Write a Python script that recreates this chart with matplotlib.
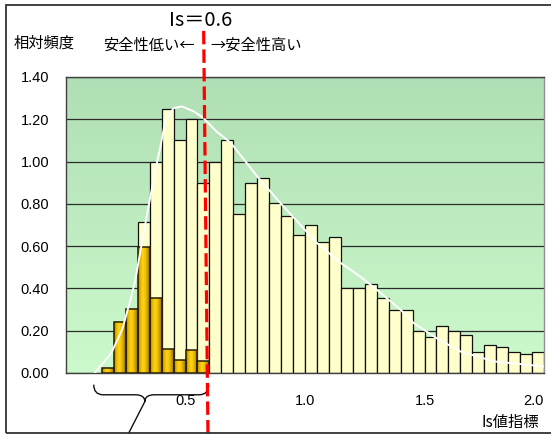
import numpy as np
import matplotlib
matplotlib.use("Agg")
import matplotlib.pyplot as plt
from matplotlib.patches import Rectangle, PathPatch
from matplotlib.path import Path
from matplotlib.colors import LinearSegmentedColormap

plt.rcParams['font.family'] = ['Liberation Sans', 'Noto Sans CJK JP', 'DejaVu Sans']
JP = ['Noto Sans CJK JP', 'DejaVu Sans']

# 頻度分布 (階級幅 0.05, 0.15〜2.00)
bin_width = 0.05
bin_left = np.round(np.arange(0.15, 2.0, bin_width), 2)
freq_all = [0.024, 0.241, 0.303, 0.712, 1.00, 1.251, 1.10, 1.202, 0.901,
            1.00, 1.10, 0.752, 0.901, 0.92, 0.804, 0.744, 0.652, 0.701,
            0.619, 0.643, 0.402, 0.402, 0.422, 0.353, 0.299, 0.299, 0.201,
            0.170, 0.220, 0.201, 0.181, 0.099, 0.131, 0.121, 0.099, 0.090,
            0.099]
# Is < 0.6 の部分
freq_low = [0.024, 0.241, 0.303, 0.596, 0.354, 0.113, 0.060, 0.107, 0.055]

# 近似曲線
curve_x = [0.12, 0.19, 0.235, 0.27, 0.29, 0.31, 0.34, 0.38, 0.395, 0.415,
           0.45, 0.485, 0.535, 0.575, 0.63, 0.69, 0.80, 0.90, 1.05, 1.15,
           1.23, 1.30, 1.40, 1.455, 1.55, 1.65, 1.79, 2.0]
curve_y = [0.0, 0.095, 0.205, 0.347, 0.44, 0.567, 0.757, 0.993, 1.07, 1.19,
           1.253, 1.261, 1.237, 1.206, 1.142, 1.088, 0.93, 0.80, 0.615, 0.52,
           0.457, 0.394, 0.299, 0.236, 0.165, 0.102, 0.055, 0.031]

is_threshold = 0.6
y_ticks = [0.0, 0.2, 0.4, 0.6, 0.8, 1.0, 1.2, 1.4]
x_ticks = [0.5, 1.0, 1.5, 2.0]

W, H = 551, 434
fig = plt.figure(figsize=(W / 100, H / 100), dpi=100)
ax = fig.add_axes([66 / W, (H - 373) / H, (544 - 66) / W, (373 - 77) / H])
ax.set_xlim(0, 2.0)
ax.set_ylim(0, 1.4)

# 背景のグラデーション
bg = LinearSegmentedColormap.from_list("bg", ["#ccfacc", "#b1dfb5"])
ax.imshow(np.linspace(0, 1, 256).reshape(-1, 1), cmap=bg, origin="lower",
          extent=[0, 2.0, 0, 1.4], aspect="auto", zorder=0)

ax.set_axisbelow(True)
ax.yaxis.grid(True, color="#2b2b2b", linewidth=0.9)

# 全体の分布
ax.bar(bin_left, freq_all, width=bin_width, align="edge", color="#ffffcc",
       edgecolor="#111111", linewidth=0.9, zorder=2)

# Is < 0.6 の棒 (金色の円柱風)
gold = LinearSegmentedColormap.from_list(
    "gold", ["#a87f00", "#e6b800", "#ffd21a", "#f5c800", "#c99c00", "#8a6a00"])
for x0, h in zip(bin_left, freq_low):
    rect = Rectangle((x0, 0), bin_width, h, facecolor="none",
                     edgecolor="#2a1f00", linewidth=1.1, zorder=4)
    ax.add_patch(rect)
    im = ax.imshow(np.linspace(0, 1, 64).reshape(1, -1), cmap=gold,
                   extent=[x0, x0 + bin_width, 0, h], aspect="auto", zorder=3)
    im.set_clip_path(rect)

ax.plot(curve_x, curve_y, color="white", linewidth=1.4, zorder=5)

ax.set_xlim(0, 2.0)
ax.set_ylim(0, 1.4)

ax.set_yticks(y_ticks)
ax.set_yticklabels([f"{v:.2f}" for v in y_ticks])
ax.set_xticks(x_ticks)
ax.set_xticklabels([f"{v:.1f}" for v in x_ticks])
ax.get_xticklabels()[-1].set_horizontalalignment("right")
ax.tick_params(axis="y", length=0, pad=12, labelsize=10.5)
ax.tick_params(axis="x", length=0, pad=15, labelsize=10.5)
for side in ["left", "top", "bottom"]:
    ax.spines[side].set_color("#404040")
ax.spines["right"].set_color("#909090")
for sp in ax.spines.values():
    sp.set_linewidth(1.0)

# 安全性の境界線
ax.plot([is_threshold - 0.024, is_threshold - 0.006], [1.618, -0.29],
        color="#ff0000", linewidth=2.3, dashes=(4.2, 1.6), clip_on=False,
        zorder=6)

# 0.6未満の範囲を示す括弧
bx0, bx1, bm = 0.116, 0.597, 0.33
y_top, y_mid, y_tip = -0.055, -0.103, -0.135
verts = [(bx0, y_top), (bx0, y_mid), (bx0 + 0.04, y_mid),
         (bm - 0.04, y_mid), (bm, y_mid), (bm, y_tip),
         (bm, y_mid), (bm + 0.04, y_mid),
         (bx1 - 0.04, y_mid), (bx1, y_mid), (bx1, y_top)]
codes = [Path.MOVETO, Path.CURVE3, Path.CURVE3,
         Path.LINETO, Path.CURVE3, Path.CURVE3,
         Path.CURVE3, Path.CURVE3,
         Path.LINETO, Path.CURVE3, Path.CURVE3]
ax.add_patch(PathPatch(Path(verts, codes), facecolor="none", edgecolor="#111111",
                       linewidth=1.0, clip_on=False))
ax.plot([bm, 0.262], [y_tip, -0.285], color="#111111", linewidth=1.0,
        clip_on=False)

# 外枠
fig.add_artist(Rectangle((6 / W, 1 / H), 1.0, (433 - 5) / H,
                         transform=fig.transFigure, facecolor="none",
                         edgecolor="#333333", linewidth=1.3))

fig.text(201 / W, 1 - 21 / H, "Is＝0.6", ha="center", va="center",
         fontsize=14.5, family=JP)
fig.text(14 / W, 1 - 43 / H, "相対頻度", ha="left", va="center",
         fontsize=11, family=JP)
fig.text(195 / W, 1 - 45 / H, "安全性低い←", ha="right", va="center",
         fontsize=11, family=JP)
fig.text(210 / W, 1 - 45 / H, "→安全性高い", ha="left", va="center",
         fontsize=11, family=JP)
fig.text(539 / W, 1 - 422 / H, "Is値指標", ha="right", va="center",
         fontsize=11, family=JP)

fig.savefig("out.png", dpi=100)
